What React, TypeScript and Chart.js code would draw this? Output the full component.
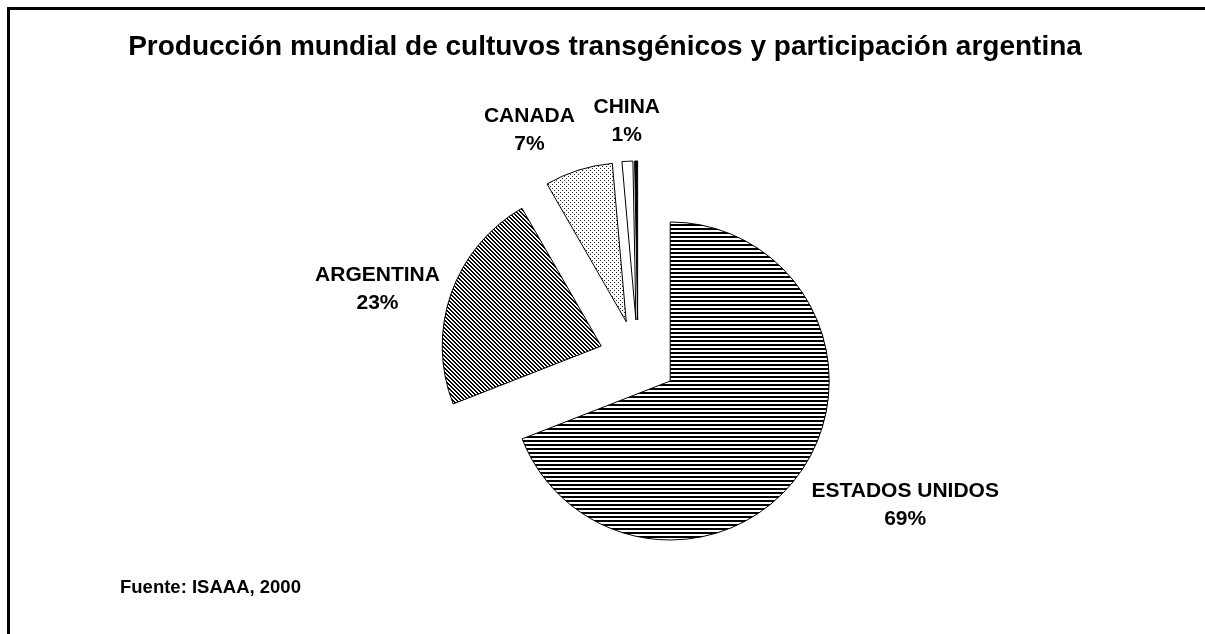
import React, { useEffect, useRef } from "react";
import { Chart, registerables, ArcElement } from "chart.js";

// ---- data ----
const categories = ["ESTADOS UNIDOS", "ARGENTINA", "CANADA", "CHINA", "OTROS"];
const shares = [69.0, 22.6, 6.9, 1.1, 0.3];
const percentLabels = ["69%", "23%", "7%", "1%", ""];
const titleText = "Producción mundial de cultuvos transgénicos y participación argentina";
const sourceText = "Fuente: ISAAA, 2000";

// Arc drawn as an exploded pie slice with constant radius (Excel style)
class ExplodedArc extends ArcElement {
  static id = "explodedArc";
  draw(ctx: CanvasRenderingContext2D) {
    const o: any = (this as any).options;
    const { x, y, startAngle, endAngle, outerRadius } = (this as any).getProps([
      "x", "y", "startAngle", "endAngle", "outerRadius",
    ]);
    if (endAngle - startAngle <= 0) return;
    const mid = (startAngle + endAngle) / 2;
    const d = o.offset || 0;
    const cx = x + Math.cos(mid) * d;
    const cy = y + Math.sin(mid) * d;
    ctx.save();
    ctx.beginPath();
    ctx.moveTo(cx, cy);
    ctx.arc(cx, cy, outerRadius, startAngle, endAngle);
    ctx.closePath();
    ctx.fillStyle = o.backgroundColor;
    ctx.fill();
    ctx.lineWidth = o.borderWidth;
    ctx.strokeStyle = o.borderColor;
    ctx.lineJoin = "miter";
    ctx.stroke();
    ctx.restore();
  }
}

Chart.register(...registerables, ExplodedArc);
(Chart.defaults as any).datasets.pie.dataElementType = "explodedArc";

function makePattern(size: number, paint: (c: CanvasRenderingContext2D) => void, bg = "#ffffff") {
  const t = document.createElement("canvas");
  t.width = size;
  t.height = size;
  const c = t.getContext("2d")!;
  c.fillStyle = bg;
  c.fillRect(0, 0, size, size);
  paint(c);
  const main = document.createElement("canvas").getContext("2d")!;
  return main.createPattern(t, "repeat")!;
}

const LABEL_FONT = "bold 21px 'Liberation Sans', Arial, sans-serif";

const framePlugin = {
  id: "frameAndText",
  beforeDraw(chart: any) {
    const ctx = chart.ctx;
    ctx.save();
    ctx.fillStyle = "#ffffff";
    ctx.fillRect(0, 0, chart.width, chart.height);
    ctx.fillStyle = "#000000";
    ctx.fillRect(7, 7, chart.width - 7, 3);
    ctx.fillRect(7, 7, 3, chart.height - 7);
    ctx.restore();
  },
  afterDatasetsDraw(chart: any) {
    const ctx = chart.ctx;
    ctx.save();
    // title
    ctx.fillStyle = "#000";
    ctx.font = "bold 28px 'Liberation Sans', Arial, sans-serif";
    ctx.textAlign = "center";
    ctx.textBaseline = "alphabetic";
    ctx.fillText(titleText, 605, 55);
    // source
    ctx.font = "bold 18.5px 'Liberation Sans', Arial, sans-serif";
    ctx.textAlign = "left";
    ctx.fillText(sourceText, 120, 593);

    // slice labels
    const meta = chart.getDatasetMeta(0);
    ctx.font = LABEL_FONT;
    const lineH = 28;
    meta.data.forEach((arc: any, i: number) => {
      if (!percentLabels[i]) return;
      const { x, y, startAngle, endAngle, outerRadius } = arc.getProps([
        "x", "y", "startAngle", "endAngle", "outerRadius",
      ]);
      const off = arc.options.offset || 0;
      const mid = (startAngle + endAngle) / 2;
      const dx = Math.cos(mid);
      const dy = Math.sin(mid);
      const r = outerRadius + off + 12;
      const ex = x + dx * r;
      const ey = y + dy * r;
      const lines = [categories[i], percentLabels[i]];
      const w = Math.max(...lines.map((l) => ctx.measureText(l).width));
      const h = lineH * lines.length;
      let left = ex - w / 2;
      if (dx > 0.25) left = ex;
      else if (dx < -0.25) left = ex - w;
      let top = ey - h / 2;
      if (dy > 0.5) top = ey;
      else if (dy < -0.5) top = ey - h;
      ctx.textAlign = "center";
      ctx.textBaseline = "middle";
      lines.forEach((l, k) => ctx.fillText(l, left + w / 2, top + lineH * (k + 0.5)));
    });
    ctx.restore();
  },
};

export default function App() {
  const ref = useRef<HTMLCanvasElement>(null);
  useEffect(() => {
    document.body.style.margin = "0";
    const usPattern = makePattern(4, (c) => {
      c.fillStyle = "#000";
      c.fillRect(0, 0, 4, 2);
    });
    const argPattern = makePattern(4, (c) => {
      c.fillStyle = "#000";
      for (let yy = 0; yy < 4; yy++) {
        c.fillRect(yy % 4, yy, 1, 1);
        c.fillRect((yy + 1) % 4, yy, 1, 1);
      }
    });
    const canPattern = makePattern(4, (c) => {
      c.fillStyle = "#222";
      c.fillRect(0, 0, 1, 1);
      c.fillRect(2, 2, 1, 1);
    });
    const chart = new Chart(ref.current!, {
      type: "pie",
      data: {
        labels: categories,
        datasets: [
          {
            data: shares,
            backgroundColor: [usPattern, argPattern, canPattern, "#ffffff", "#000000"],
            borderColor: "#000000",
            borderWidth: 1,
            offset: 39,
            radius: 159,
            clip: false,
          } as any,
        ],
      },
      options: {
        responsive: false,
        animation: false,
        layout: { padding: { left: 276, right: 205, top: 150, bottom: 66 } },
        plugins: {
          legend: { display: false },
          tooltip: { enabled: false },
          title: { display: false },
        },
      },
      plugins: [framePlugin],
    });
    return () => chart.destroy();
  }, []);
  return (
    <div style={{ position: "fixed", left: 0, top: 0, width: 1205, height: 634 }}>
      <canvas ref={ref} width={1205} height={634} style={{ display: "block" }} />
    </div>
  );
}
